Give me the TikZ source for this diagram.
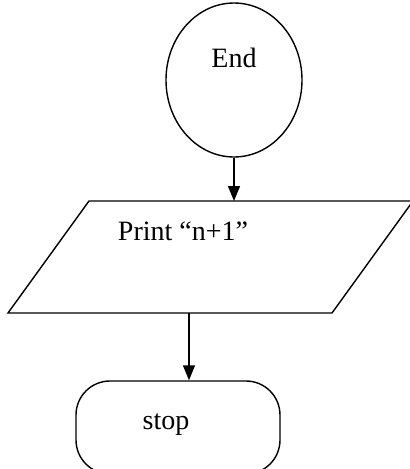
\documentclass[tikz,border=0pt]{standalone}
\usepackage{fontspec}
\setmainfont{Liberation Serif}
\usetikzlibrary{arrows.meta,shapes.geometric}

\begin{document}
\begin{tikzpicture}[x=1pt,y=-1pt,line width=1.4pt,
        txt/.style={font=\fontsize{28}{34}\selectfont},
        arr/.style={-{Triangle[width=12pt,length=15pt]}}]
        \useasboundingbox (0,0) rectangle (410,469);
        % end circle
        \node[draw,ellipse,minimum width=136pt,minimum height=154pt,inner sep=0pt] (end) at (234,80) {};
        \node[txt] (endtxt) at (234,58) {End};
        % print box
        \coordinate (ptl) at (89,201);
        \coordinate (ptr) at (413,201);
        \coordinate (pbr) at (332,313);
        \coordinate (pbl) at (8,313);
        \draw (ptl) -- (ptr) -- (pbr) -- (pbl) -- cycle;
        \node[txt] (print) at (183,231) {Print “n+1”};
        % stop box
        \node[draw,rounded corners=34pt,minimum width=204pt,minimum height=93pt] (stop) at (178,427.5) {};
        \node[txt] (stoptxt) at (166,425) {stop};
        % arrows
        \coordinate (in1) at (234,201);
        \coordinate (out2) at (189,313);
        \draw[arr] (end.south) -- (in1);
        \draw[arr] (out2) -- (out2 |- stop.north);
\end{tikzpicture}
\end{document}
